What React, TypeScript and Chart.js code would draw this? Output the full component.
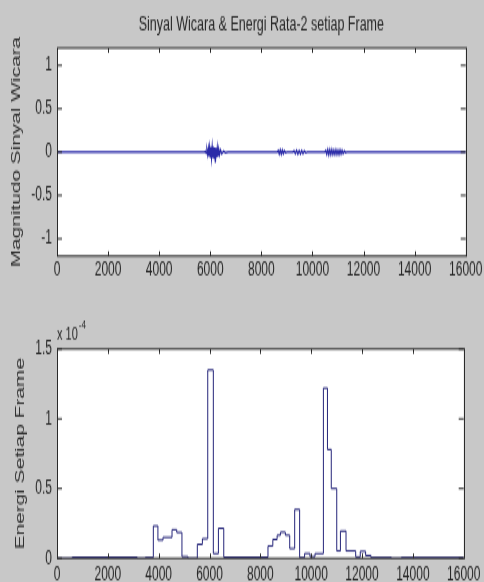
import React, { useEffect, useRef } from 'react';
import { Chart, registerables } from 'chart.js';

Chart.register(...registerables);

// ---------- data ----------
const TITLE = 'Sinyal Wicara & Energi Rata-2 setiap Frame';
const Y1_LABEL = 'Magnitudo Sinyal Wicara';
const Y2_LABEL = 'Energi Setiap Frame';
const EXP_BASE = 'x 10';
const EXP_POWER = '-4';

const X_TICKS = [0, 2000, 4000, 6000, 8000, 10000, 12000, 14000, 16000];
const Y1_TICKS = [-1, -0.5, 0, 0.5, 1];
const Y2_TICKS = [0, 0.5, 1, 1.5];

// speech signal envelope (sample index, magnitude)
const signalX = [
  0, 5780, 5810, 5840, 5870, 5900, 5925, 5950, 5975, 6000, 6025, 6050, 6075, 6100, 6125, 6150, 6175,
  6200, 6225, 6250, 6275, 6300, 6330, 6360, 6400, 6450, 6520, 6600, 6700,
  8620, 8660, 8700, 8740, 8780, 8820, 8860, 8900, 8950, 9000,
  9230, 9280, 9330, 9380, 9430, 9480, 9530, 9580, 9630, 9680, 9740, 9800,
  10480, 10520, 10560, 10600, 10640, 10680, 10720, 10760, 10800, 10840, 10880, 10920, 10960, 11000,
  11040, 11080, 11120, 11160, 11200, 11250, 11300, 11340, 16000,
];
const signalY = [
  0, 0, 0.01, -0.012, 0.025, -0.03, 0.04, -0.045, 0.05, -0.055, 0.06, -0.06, 0.055, -0.065, 0.06, -0.07, 0.055,
  -0.12, 0.05, -0.06, 0.045, -0.05, 0.035, -0.03, 0.025, -0.018, 0.01, -0.006, 0,
  0, 0.018, -0.022, 0.025, -0.025, 0.022, -0.018, 0.014, -0.008, 0,
  0, 0.014, -0.018, 0.022, -0.022, 0.018, -0.022, 0.018, -0.018, 0.014, -0.008, 0,
  0, 0.018, -0.025, 0.03, -0.03, 0.028, -0.03, 0.028, -0.028, 0.022, -0.028, 0.028, -0.026, 0.022,
  -0.026, 0.026, -0.022, 0.02, -0.018, 0.012, -0.008, 0, 0,
];

// frame energy (frame start sample, energy in units of 1e-4)
const energyX = [
  0, 600, 3150, 3480, 3790, 3970, 4170, 4525, 4710, 4915, 5150, 5520, 5720, 5930, 6150,
  6350, 6560, 8300, 8490, 8660, 8790, 8985, 9155, 9350, 9545, 9740, 9950, 10150, 10480, 10640,
  10790, 11005, 11150, 11370, 11750, 11930, 12140, 12350, 13150, 13550, 16000,
];
const energyY = [
  0, 0.008, 0, 0.006, 0.232, 0.13, 0.15, 0.205, 0.185, 0.012, 0, 0.1, 0.14, 1.35, 0.034,
  0.215, 0.008, 0.088, 0.135, 0.165, 0.187, 0.165, 0.07, 0.35, 0.005, 0.035, 0.012, 0.034, 1.22, 0.78,
  0.5, 0.053, 0.195, 0.053, 0.01, 0.05, 0.02, 0.006, 0, 0.006, 0.006,
];

// ---------- styling ----------
const TICK_FONT = "'Liberation Sans', Arial, sans-serif";
const LABEL_FONT = "'Liberation Sans', Arial, sans-serif";
const TEXT_COLOR = '#262626';
const AXIS_COLOR = '#2a2a2a';
const FIG_BG = '#c8c8c8';

const framePlugin = {
  id: 'matlabFrame',
  beforeDraw(chart: any) {
    const { ctx, chartArea: a } = chart;
    ctx.save();
    ctx.fillStyle = '#ffffff';
    ctx.fillRect(a.left, a.top, a.right - a.left, a.bottom - a.top);
    ctx.restore();
  },
  afterDraw(chart: any) {
    const { ctx, chartArea: a, scales } = chart;
    const xs = scales.x;
    const ys = scales.y;
    ctx.save();
    ctx.strokeStyle = AXIS_COLOR;
    ctx.lineWidth = 1;
    ctx.beginPath();
    xs.ticks.forEach((t: any) => {
      const px = Math.round(xs.getPixelForValue(t.value)) + 0.5;
      ctx.moveTo(px, a.bottom);
      ctx.lineTo(px, a.bottom - 3);
      ctx.moveTo(px, a.top);
      ctx.lineTo(px, a.top + 3);
    });
    ys.ticks.forEach((t: any) => {
      const py = ys.getPixelForValue(t.value);
      ctx.moveTo(a.left, py);
      ctx.lineTo(a.left + 5, py);
      ctx.moveTo(a.right, py);
      ctx.lineTo(a.right - 5, py);
    });
    ctx.stroke();
    ctx.strokeRect(Math.round(a.left) + 0.5, a.top, Math.round(a.right - a.left), a.bottom - a.top);
    ctx.restore();
  },
};

const expPlugin = {
  id: 'expLabel',
  afterDraw(chart: any) {
    const { ctx, chartArea: a } = chart;
    ctx.save();
    ctx.fillStyle = TEXT_COLOR;
    ctx.textAlign = 'left';
    ctx.textBaseline = 'alphabetic';
    ctx.font = `11px ${TICK_FONT}`;
    ctx.fillText(EXP_BASE, a.left, a.top - 6);
    const w = ctx.measureText(EXP_BASE).width;
    ctx.font = `8px ${TICK_FONT}`;
    ctx.fillText(EXP_POWER, a.left + w + 1, a.top - 13);
    ctx.restore();
  },
};

function makeOptions(cfg: {
  ymin: number; ymax: number; yTicks: number[]; yLabel: string; yTitlePad: number;
  xHeight: number; xPad: number; topPad: number; title?: string;
}): any {
  return {
    animation: false,
    responsive: false,
    events: [],
    layout: { padding: { left: 0, right: 18, top: cfg.topPad, bottom: 0 } },
    plugins: {
      legend: { display: false },
      tooltip: { enabled: false },
      title: cfg.title
        ? {
            display: true,
            fullSize: false,
            text: cfg.title,
            color: TEXT_COLOR,
            font: { family: LABEL_FONT, size: 12.5, weight: 'normal' },
            padding: { top: 8, bottom: 7 },
          }
        : { display: false },
    },
    scales: {
      x: {
        type: 'linear',
        min: 0,
        max: 16000,
        afterBuildTicks: (s: any) => { s.ticks = X_TICKS.map((v) => ({ value: v })); },
        afterFit: (s: any) => { s.height = cfg.xHeight; },
        grid: { display: false, drawTicks: false },
        border: { display: false },
        ticks: {
          autoSkip: false,
          maxRotation: 0,
          padding: cfg.xPad,
          color: TEXT_COLOR,
          font: { family: TICK_FONT, size: 12 },
          callback: (v: any) => String(v),
        },
      },
      y: {
        type: 'linear',
        min: cfg.ymin,
        max: cfg.ymax,
        afterBuildTicks: (s: any) => { s.ticks = cfg.yTicks.map((v) => ({ value: v })); },
        afterFit: (s: any) => { s.width = 57; },
        grid: { display: false, drawTicks: false },
        border: { display: false },
        ticks: {
          autoSkip: false,
          padding: 5,
          color: TEXT_COLOR,
          font: { family: TICK_FONT, size: 12 },
          callback: (v: any) => String(v),
        },
        title: {
          display: true,
          text: cfg.yLabel,
          color: '#303030',
          font: { family: LABEL_FONT, size: 13 },
          padding: { top: cfg.yTitlePad, bottom: 0 },
        },
      },
    },
  };
}

export default function App() {
  const topRef = useRef<HTMLCanvasElement | null>(null);
  const botRef = useRef<HTMLCanvasElement | null>(null);

  useEffect(() => {
    const c1 = new Chart(topRef.current as HTMLCanvasElement, {
      type: 'line',
      data: {
        datasets: [
          {
            data: signalX.map((x, i) => ({ x, y: signalY[i] })),
            borderColor: '#2a2aa8',
            borderWidth: 1.3,
            pointRadius: 0,
            tension: 0,
            fill: false,
          },
        ],
      },
      options: makeOptions({
        ymin: -1.2, ymax: 1.2, yTicks: Y1_TICKS, yLabel: Y1_LABEL, yTitlePad: 9,
        xHeight: 21.2, xPad: 1.6, topPad: 0, title: TITLE,
      }),
      plugins: [framePlugin],
    } as any);

    const c2 = new Chart(botRef.current as HTMLCanvasElement, {
      type: 'line',
      data: {
        datasets: [
          {
            data: energyX.map((x, i) => ({ x, y: energyY[i] })),
            borderColor: '#25257a',
            borderWidth: 1,
            pointRadius: 0,
            stepped: 'before',
            fill: false,
          },
        ],
      },
      options: makeOptions({
        ymin: 0, ymax: 1.5, yTicks: Y2_TICKS, yLabel: Y2_LABEL, yTitlePad: 13,
        xHeight: 14.8, xPad: 3.6, topPad: 36.8,
      }),
      plugins: [framePlugin, expPlugin],
    } as any);

    return () => {
      c1.destroy();
      c2.destroy();
    };
  }, []);

  return (
    <div
      style={{
        position: 'fixed', left: 0, top: 0, width: 484, height: 582,
        background: FIG_BG, overflow: 'hidden',
      }}
    >
      <canvas
        ref={topRef}
        width={484}
        height={181}
        style={{ position: 'absolute', left: 0, top: 0, width: '484px', height: '290px' }}
      />
      <canvas
        ref={botRef}
        width={484}
        height={182}
        style={{ position: 'absolute', left: 0, top: 290, width: '484px', height: '292px' }}
      />
    </div>
  );
}
